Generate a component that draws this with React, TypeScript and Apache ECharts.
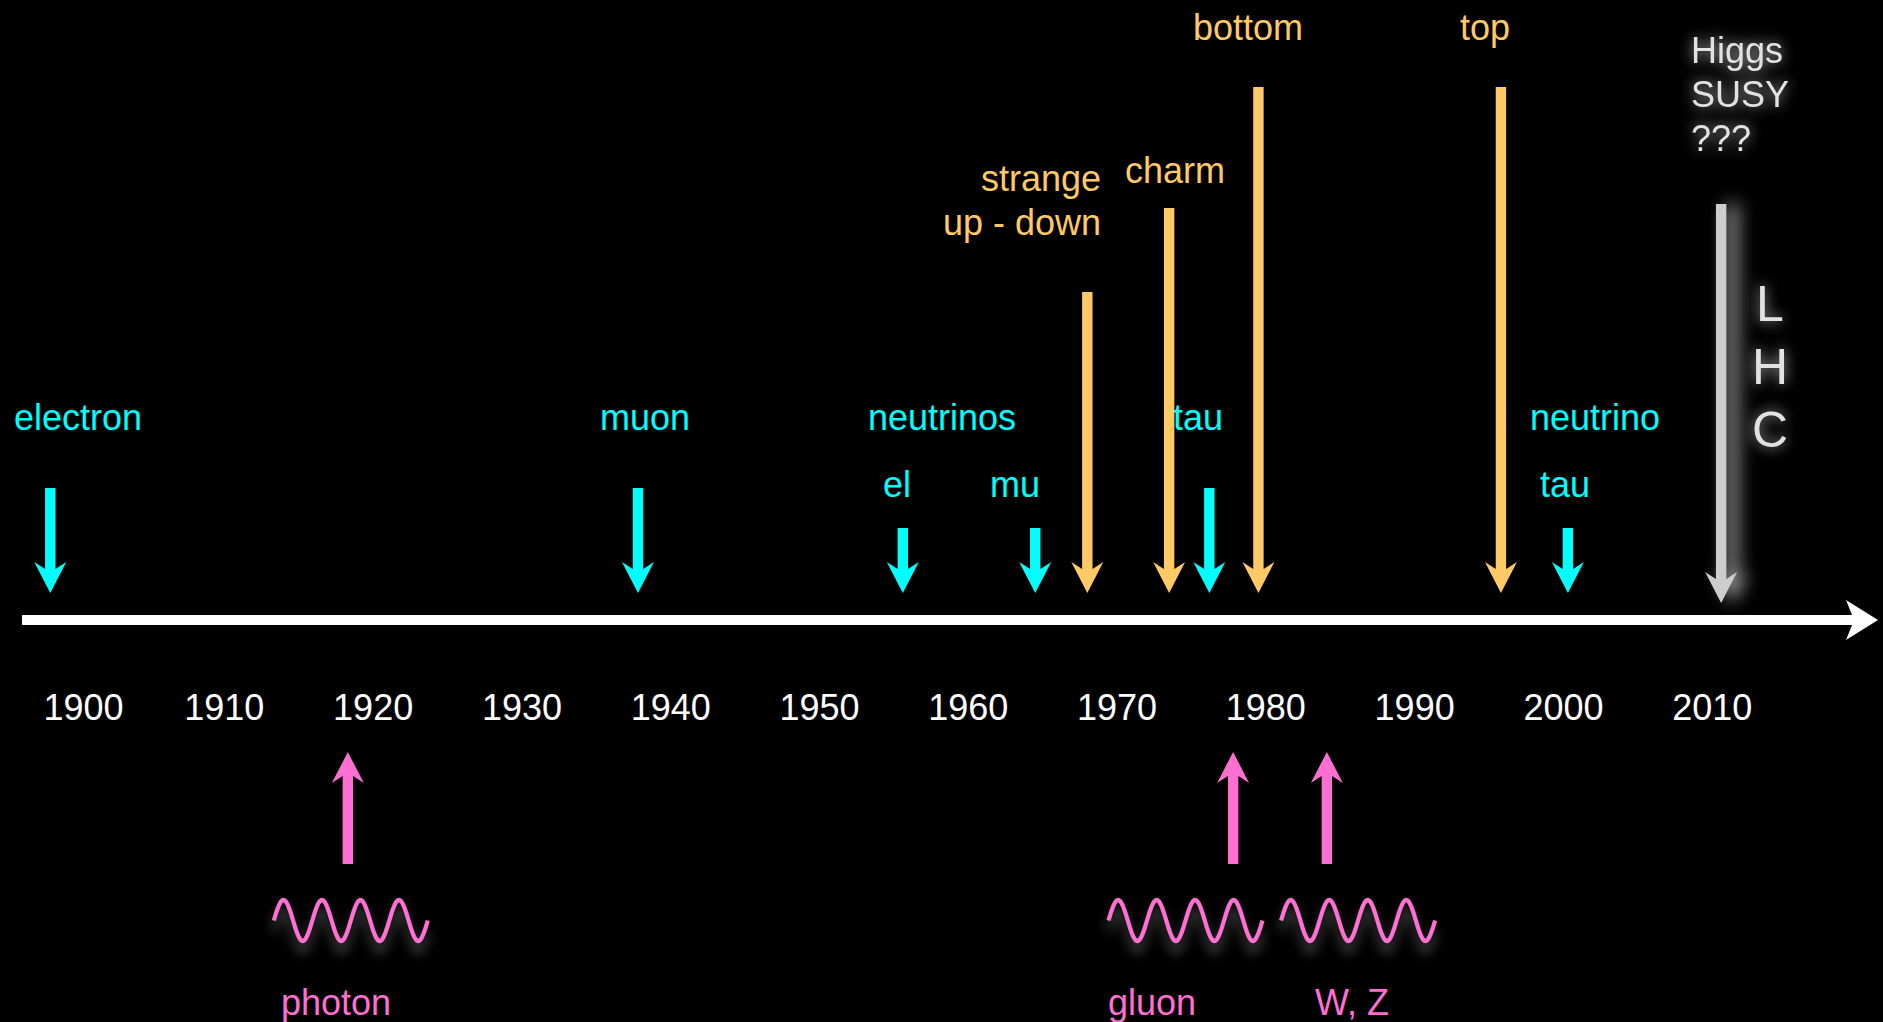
import React, { useEffect, useRef } from 'react';
import * as echarts from 'echarts';

const tickYears = [1900, 1910, 1920, 1930, 1940, 1950, 1960, 1970, 1980, 1990, 2000, 2010];

const leptonNames = ['electron', 'muon', 'el neutrino', 'mu neutrino', 'tau', 'tau neutrino'];
const leptonYears = [1898.3, 1937.8, 1955.6, 1964.5, 1976.2, 2000.3];
const leptonLevels = [132, 132, 92, 92, 132, 92];

const quarkNames = ['up - down / strange', 'charm', 'bottom', 'top'];
const quarkYears = [1968.0, 1973.5, 1979.5, 1995.8];
const quarkLevels = [328, 412, 533, 533];

const bosonNames = ['photon', 'gluon', 'W, Z'];
const bosonYears = [1918.3, 1977.8, 1984.1];
const waveYears = [1918.5, 1974.6, 1986.2];

const lhcNames = ['LHC'];
const lhcYears = [2010.6];
const lhcLevels = [416];

// ---- layout / style ----
const CYAN = '#00FFFF';
const ORANGE = '#FFC966';
const PINK = '#FF6FD2';
const GRAY = '#CDCDCD';
const GRAY_TEXT = '#E2E2E2';
const FONT = '"Liberation Sans", Arial, Helvetica, sans-serif';

const DOWN_TIP = 27;
const LHC_TIP = 17;
const UP_BASE = -244;
const UP_TIP = -132;
const WAVE_LEVEL = -300.5;

const SHAFT = 5.2;
const HEAD = 16;
const HEAD_LEN = 31;
const NOTCH = 7;

type Label = { text: string; x: number; y: number; color: string; align?: string; lineHeight?: number; fontSize?: number; glow?: boolean };
const labels: Label[] = [
  { text: 'electron', x: 78, y: 417, color: CYAN },
  { text: 'muon', x: 645, y: 417, color: CYAN },
  { text: 'neutrinos', x: 942, y: 417, color: CYAN },
  { text: 'el', x: 897, y: 484, color: CYAN },
  { text: 'mu', x: 1015, y: 484, color: CYAN },
  { text: 'tau', x: 1198, y: 417, color: CYAN },
  { text: 'neutrino', x: 1595, y: 417, color: CYAN },
  { text: 'tau', x: 1565, y: 484, color: CYAN },
  { text: 'strange\nup - down', x: 1101, y: 200, color: ORANGE, align: 'right', lineHeight: 44 },
  { text: 'charm', x: 1175, y: 170, color: ORANGE },
  { text: 'bottom', x: 1248, y: 27, color: ORANGE },
  { text: 'top', x: 1485, y: 27, color: ORANGE },
  { text: 'Higgs\nSUSY\n???', x: 1691, y: 94, color: GRAY_TEXT, align: 'left', lineHeight: 44, glow: true },
  { text: 'L\nH\nC', x: 1770, y: 367, color: GRAY_TEXT, lineHeight: 63, fontSize: 50, glow: true },
  { text: 'photon', x: 336, y: 1002, color: PINK },
  { text: 'gluon', x: 1152, y: 1002, color: PINK },
  { text: 'W, Z', x: 1352, y: 1002, color: PINK },
];

const downArrow = (color: string, glow: boolean) => (_p: any, api: any) => {
  const year = api.value(0);
  const top = api.coord([year, api.value(1)]);
  const tip = api.coord([year, api.value(2)]);
  const x = top[0];
  const outer = tip[1] - HEAD_LEN;
  const inner = outer + NOTCH;
  const style: any = { fill: color };
  if (glow) {
    style.shadowBlur = 18;
    style.shadowColor = 'rgba(255,255,255,0.7)';
    style.shadowOffsetX = 11;
  }
  return {
    type: 'polygon',
    shape: {
      points: [
        [x - SHAFT, top[1]], [x + SHAFT, top[1]], [x + SHAFT, inner], [x + HEAD, outer],
        [x, tip[1]], [x - HEAD, outer], [x - SHAFT, inner],
      ],
    },
    style,
  };
};

const upArrow = (color: string) => (_p: any, api: any) => {
  const year = api.value(0);
  const base = api.coord([year, api.value(1)]);
  const tip = api.coord([year, api.value(2)]);
  const x = base[0];
  const outer = tip[1] + HEAD_LEN;
  const inner = outer - NOTCH;
  return {
    type: 'polygon',
    shape: {
      points: [
        [x - SHAFT, base[1]], [x + SHAFT, base[1]], [x + SHAFT, inner], [x + HEAD, outer],
        [x, tip[1]], [x - HEAD, outer], [x - SHAFT, inner],
      ],
    },
    style: { fill: color },
  };
};

const wave = (color: string) => (_p: any, api: any) => {
  const c = api.coord([api.value(0), api.value(1)]);
  const half = 77;
  const period = 38.5;
  const amp = 20.5;
  const pts: number[][] = [];
  const n = 160;
  for (let i = 0; i <= n; i++) {
    const dx = (i / n) * half * 2;
    pts.push([c[0] - half + dx, c[1] - amp * Math.sin((2 * Math.PI * dx) / period)]);
  }
  return {
    type: 'polyline',
    shape: { points: pts },
    style: {
      stroke: color,
      lineWidth: 4.2,
      fill: null,
      shadowBlur: 12,
      shadowColor: 'rgba(255,255,255,0.35)',
      shadowOffsetY: 10,
    },
  };
};

export default function App() {
  const ref = useRef<HTMLDivElement>(null);
  useEffect(() => {
    document.body.style.margin = '0';
    document.body.style.background = '#000';
    const chart = echarts.init(ref.current!, undefined, { renderer: 'svg' });
    const option: any = {
      animation: false,
      backgroundColor: '#000',
      grid: { left: 22, right: 22, top: 0, bottom: 402, containLabel: false, outerBoundsMode: 'none' },
      xAxis: {
        type: 'value',
        min: 1896.4,
        max: 2020,
        axisLine: {
          show: true,
          onZero: false,
          symbol: ['none', 'arrow'],
          symbolSize: [30, 32],
          symbolOffset: [0, 17],
          lineStyle: { color: '#FFFFFF', width: 10, cap: 'butt' },
        },
        axisTick: { show: false },
        splitLine: { show: false },
        axisLabel: {
          customValues: tickYears,
          color: '#FFFFFF',
          fontSize: 36,
          fontFamily: FONT,
          margin: 87,
          verticalAlign: 'middle',
          formatter: (v: number) => (v === 1900 ? '{s|1900}' : String(v)),
          rich: { s: { color: '#FFFFFF', fontSize: 36, fontFamily: FONT, padding: [0, 0, 0, 16] } },
        },
      },
      yAxis: { type: 'value', min: 0, max: 620, show: false },
      graphic: labels.map((l) => ({
        type: 'text',
        x: l.x,
        y: l.y,
        z: 0,
        style: {
          text: l.text,
          fill: l.color,
          fontSize: l.fontSize || 36,
          fontFamily: FONT,
          align: l.align || 'center',
          verticalAlign: 'middle',
          lineHeight: l.lineHeight,
          ...(l.glow ? { textShadowBlur: 14, textShadowColor: 'rgba(255,255,255,0.75)' } : {}),
        },
      })),
      series: [
        {
          name: 'leptons',
          type: 'custom',
          clip: false,
          renderItem: downArrow(CYAN, false),
          data: leptonYears.map((y, i) => ({ name: leptonNames[i], value: [y, leptonLevels[i], DOWN_TIP] })),
          z: 5,
        },
        {
          name: 'quarks',
          type: 'custom',
          clip: false,
          renderItem: downArrow(ORANGE, false),
          data: quarkYears.map((y, i) => ({ name: quarkNames[i], value: [y, quarkLevels[i], DOWN_TIP] })),
          z: 5,
        },
        {
          name: 'LHC',
          type: 'custom',
          clip: false,
          renderItem: downArrow(GRAY, true),
          data: lhcYears.map((y, i) => ({ name: lhcNames[i], value: [y, lhcLevels[i], LHC_TIP] })),
          z: 5,
        },
        {
          name: 'bosons',
          type: 'custom',
          clip: false,
          renderItem: upArrow(PINK),
          data: bosonYears.map((y, i) => ({ name: bosonNames[i], value: [y, UP_BASE, UP_TIP] })),
          z: 5,
        },
        {
          name: 'waves',
          type: 'custom',
          clip: false,
          renderItem: wave(PINK),
          data: waveYears.map((y, i) => ({ name: bosonNames[i], value: [y, WAVE_LEVEL] })),
          z: 5,
        },
      ],
    };
    chart.setOption(option);
    return () => chart.dispose();
  }, []);
  return (
    <div
      ref={ref}
      style={{ position: 'fixed', left: 0, top: 0, width: 1883, height: 1022, background: '#000' }}
    />
  );
}
